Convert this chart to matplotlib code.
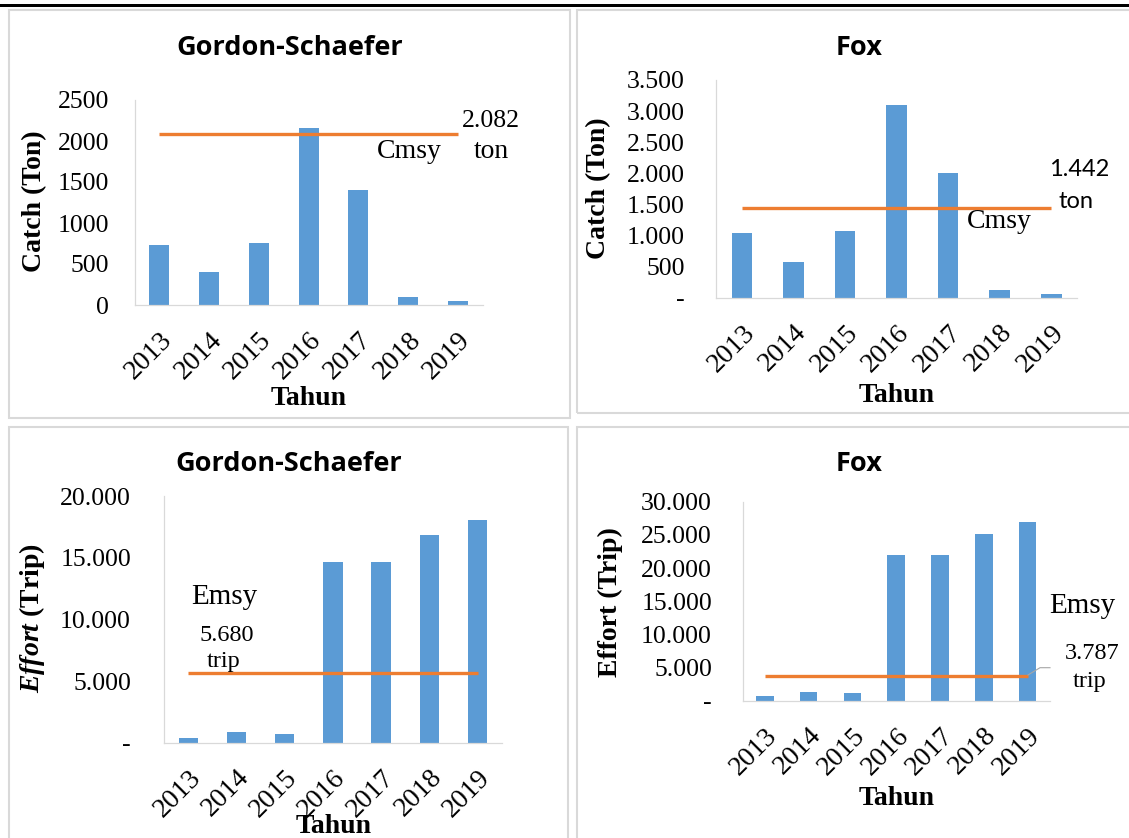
import matplotlib.pyplot as plt
from matplotlib.patches import Rectangle
from matplotlib.lines import Line2D
from matplotlib.ticker import FuncFormatter, MultipleLocator
from matplotlib.transforms import ScaledTranslation

# ukuran gambar dalam piksel (dpi 100)
W, H = 1129, 838

tahun = ['2013', '2014', '2015', '2016', '2017', '2018', '2019']

# hasil tangkapan (ton)
catch_gs = [732, 399, 756, 2162, 1398, 101, 45]
catch_fox = [1040, 574, 1077, 3103, 2010, 124, 55]

# upaya penangkapan (trip)
effort_gs = [380, 837, 730, 14640, 14640, 16830, 18050]
effort_fox = [700, 1350, 1200, 21980, 21980, 25180, 26980]

# titik MSY
cmsy_gs = 2082
cmsy_fox = 1442
emsy_gs = 5680
emsy_fox = 3787

plt.rcParams['font.family'] = 'Liberation Serif'
plt.rcParams['mathtext.fontset'] = 'custom'
plt.rcParams['mathtext.it'] = 'Liberation Serif:italic:bold'
plt.rcParams['mathtext.rm'] = 'Liberation Serif:bold'

BIRU = '#5B9BD5'
ORANYE = '#ED7D31'
ABU = '#D9D9D9'

fig = plt.figure(figsize=(W / 100, H / 100), dpi=100)


def fx(x):
    return x / W


def fy(y):
    return 1 - y / H


def teks(x, y, s, size, **kw):
    fig.text(fx(x), fy(y), s, ha='center', va='center', fontsize=size, **kw)


def angka_biasa(v, pos):
    return '%d' % v


def ribuan(v, pos):
    if v == 0:
        return '-'
    return '{:,.0f}'.format(v).replace(',', '.')


def panel(kotak, nilai, ymax, step, garis, fmt, ypad):
    l, t, r, b = kotak
    ax = fig.add_axes([fx(l), fy(b), (r - l) / W, (b - t) / H])
    x = list(range(len(tahun)))
    ax.bar(x, nilai, width=0.4, color=BIRU)
    ax.hlines(garis, 0, len(tahun) - 1, color=ORANYE, lw=2.4)
    ax.set_xlim(-0.5, len(tahun) - 0.5)
    ax.set_ylim(0, ymax)
    ax.yaxis.set_major_locator(MultipleLocator(step))
    ax.yaxis.set_major_formatter(FuncFormatter(fmt))
    ax.set_xticks(x)
    ax.set_xticklabels(tahun, rotation=45, ha='right', va='top',
                       rotation_mode='anchor', fontsize=20)
    geser = ScaledTranslation(-0.03, 0, fig.dpi_scale_trans)
    for lbl in ax.get_xticklabels():
        lbl.set_transform(lbl.get_transform() + geser)
    ax.tick_params(axis='both', length=0)
    ax.tick_params(axis='x', pad=16)
    ax.tick_params(axis='y', pad=ypad, labelsize=18.5)
    for s in ['top', 'right']:
        ax.spines[s].set_visible(False)
    for s in ['left', 'bottom']:
        ax.spines[s].set_color(ABU)
        ax.spines[s].set_linewidth(0.9)
    return ax


# Gordon-Schaefer : catch
panel((134.5, 100, 482.7, 305), catch_gs, 2500, 500, cmsy_gs, angka_biasa, 18.4)
teks(290, 48, 'Gordon-Schaefer', 19.5, family='Open Sans', weight='bold')
teks(34.5, 201, 'Catch (Ton)', 20, weight='bold', rotation=90)
teks(308.6, 398, 'Tahun', 20, weight='bold')
teks(491, 121, '2.082', 18.5)
teks(491, 151, 'ton', 20)
teks(409.5, 151, 'Cmsy', 20)

# Fox : catch
panel((716.2, 80, 1077, 297.7), catch_fox, 3500, 500, cmsy_fox, ribuan, 22.6)
teks(858.8, 48, 'Fox', 19.5, family='Open Sans', weight='bold')
teks(598.5, 188, 'Catch (Ton)', 20, weight='bold', rotation=90)
teks(897, 395, 'Tahun', 20, weight='bold')
teks(999.6, 221, 'Cmsy', 20)
teks(1079, 169, '1.442', 17, family='Lato')
teks(1076, 201, 'ton', 17, family='Lato')

# Gordon-Schaefer : effort
panel((164.3, 496, 501.6, 742.7), effort_gs, 20000, 5000, emsy_gs, ribuan, 24)
teks(288.3, 464, 'Gordon-Schaefer', 19.5, family='Open Sans', weight='bold')
teks(32, 618, r'$Effort$ (Trip)', 20, weight='bold', rotation=90)
teks(333.7, 826, 'Tahun', 20, weight='bold')
teks(224.4, 597, 'Emsy', 21)
teks(227, 635, '5.680', 17.5)
teks(223.5, 662, 'trip', 17.5)

# Fox : effort
panel((742.9, 501.7, 1049.5, 700.7), effort_fox, 30000, 5000, emsy_fox, ribuan, 22.3)
teks(858.8, 464, 'Fox', 19.5, family='Open Sans', weight='bold')
teks(610.3, 602, 'Effort (Trip)', 20, weight='bold', rotation=90)
teks(897, 798, 'Tahun', 20, weight='bold')
teks(1082.5, 606, 'Emsy', 21)
teks(1092, 653, '3.787', 17.5)
teks(1089.6, 681, 'trip', 17.5)
fig.add_artist(Line2D([fx(1028), fx(1040), fx(1050)], [fy(675), fy(667.7), fy(667.7)],
                      color='#A6A6A6', lw=0.8))

# bingkai tiap grafik
for l, t, r, b in [(9, 10, 570, 418), (576.5, 10, 1140, 413),
                   (9, 427, 568, 845), (576.5, 427, 1140, 845)]:
    fig.add_artist(Rectangle((fx(l), fy(b)), (r - l) / W, (b - t) / H,
                             transform=fig.transFigure, fill=False, ec=ABU, lw=1.5))

# garis hitam di atas
fig.add_artist(Rectangle((0, fy(7.5)), 1, 3.5 / H, transform=fig.transFigure,
                         color='black', lw=0))

fig.savefig('out.png', dpi=100)
